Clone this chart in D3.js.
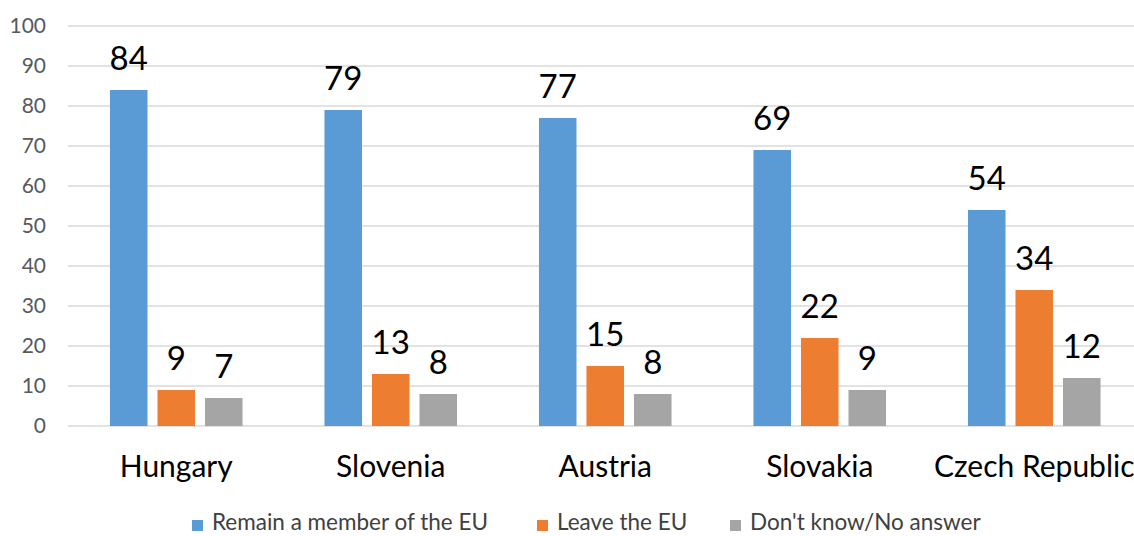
<!DOCTYPE html>
<html>
<head>
<meta charset="utf-8">
<script src="https://cdn.jsdelivr.net/npm/d3@7"></script>
<style>
  body { margin: 0; background: #fff; }
  text { font-family: Lato, "Open Sans", sans-serif; }
</style>
</head>
<body>
<div id="chart"></div>
<script>
const countries = ["Hungary", "Slovenia", "Austria", "Slovakia", "Czech Republic"];
const series = ["Remain a member of the EU", "Leave the EU", "Don't know/No answer"];
const remain = [84, 79, 77, 69, 54];
const leave = [9, 13, 15, 22, 34];
const dontKnow = [7, 8, 8, 9, 12];
const yTicks = [0, 10, 20, 30, 40, 50, 60, 70, 80, 90, 100];
const colors = ["#5B9BD5", "#ED7D31", "#A5A5A5"];

const width = 1134, height = 536;
const svg = d3.select("#chart").append("svg")
  .attr("width", width)
  .attr("height", height);

const rows = countries.map((c, i) => ({
  country: c,
  values: [remain[i], leave[i], dontKnow[i]]
}));

const x0 = d3.scaleBand().domain(countries).range([69, 1141.5])
  .paddingInner(0.382).paddingOuter(0.191);
const x1 = d3.scaleBand().domain(series).range([0, x0.bandwidth()])
  .paddingInner(0.21);
const y = d3.scaleLinear().domain([0, 100]).range([426, 26]);

// gridlines
svg.append("g").selectAll("line").data(yTicks).enter().append("line")
  .attr("x1", 68).attr("x2", width)
  .attr("y1", d => y(d)).attr("y2", d => y(d))
  .attr("stroke", "#D9D9D9").attr("stroke-width", 1.5);

// y axis labels
const yAxis = d3.axisLeft(y).tickValues(yTicks).tickSize(0).tickPadding(0);
const yg = svg.append("g").attr("transform", "translate(46,0)").call(yAxis);
yg.select(".domain").remove();
yg.selectAll("text").attr("font-size", 21).attr("fill", "#595959")
  .style("font-family", "Lato, sans-serif");

// bars
const groups = svg.append("g").selectAll("g").data(rows).enter().append("g")
  .attr("transform", d => `translate(${x0(d.country)},0)`);

groups.selectAll("rect").data(d => d.values.map((v, i) => ({ s: series[i], v, i })))
  .enter().append("rect")
  .attr("x", d => x1(d.s))
  .attr("width", x1.bandwidth())
  .attr("y", d => y(d.v))
  .attr("height", d => y(0) - y(d.v))
  .attr("fill", d => colors[d.i]);

groups.selectAll(".val").data(d => d.values.map((v, i) => ({ s: series[i], v, i })))
  .enter().append("text")
  .attr("class", "val")
  .attr("x", d => x1(d.s) + x1.bandwidth() / 2)
  .attr("y", d => y(d.v) - 20)
  .attr("text-anchor", "middle")
  .attr("font-size", 33)
  .attr("fill", "#000")
  .text(d => d.v);

// x axis labels
const xAxis = d3.axisBottom(x0).tickSize(0).tickPadding(0);
const xg = svg.append("g").attr("transform", "translate(0,477)").call(xAxis);
xg.select(".domain").remove();
xg.selectAll("text").attr("font-size", 30).attr("fill", "#000")
  .attr("y", 0).attr("dy", 0)
  .style("font-family", "Lato, sans-serif");

// legend
const legendX = [192, 537, 730];
const legend = svg.append("g").selectAll("g").data(series).enter().append("g")
  .attr("transform", (d, i) => `translate(${legendX[i]},530)`);
legend.append("rect").attr("x", 0).attr("y", -10).attr("width", 11).attr("height", 11)
  .attr("fill", (d, i) => colors[i]);
legend.append("text").attr("x", 20).attr("y", 0)
  .attr("font-size", 22.5).attr("fill", "#404040")
  .text(d => d);
</script>
</body>
</html>
